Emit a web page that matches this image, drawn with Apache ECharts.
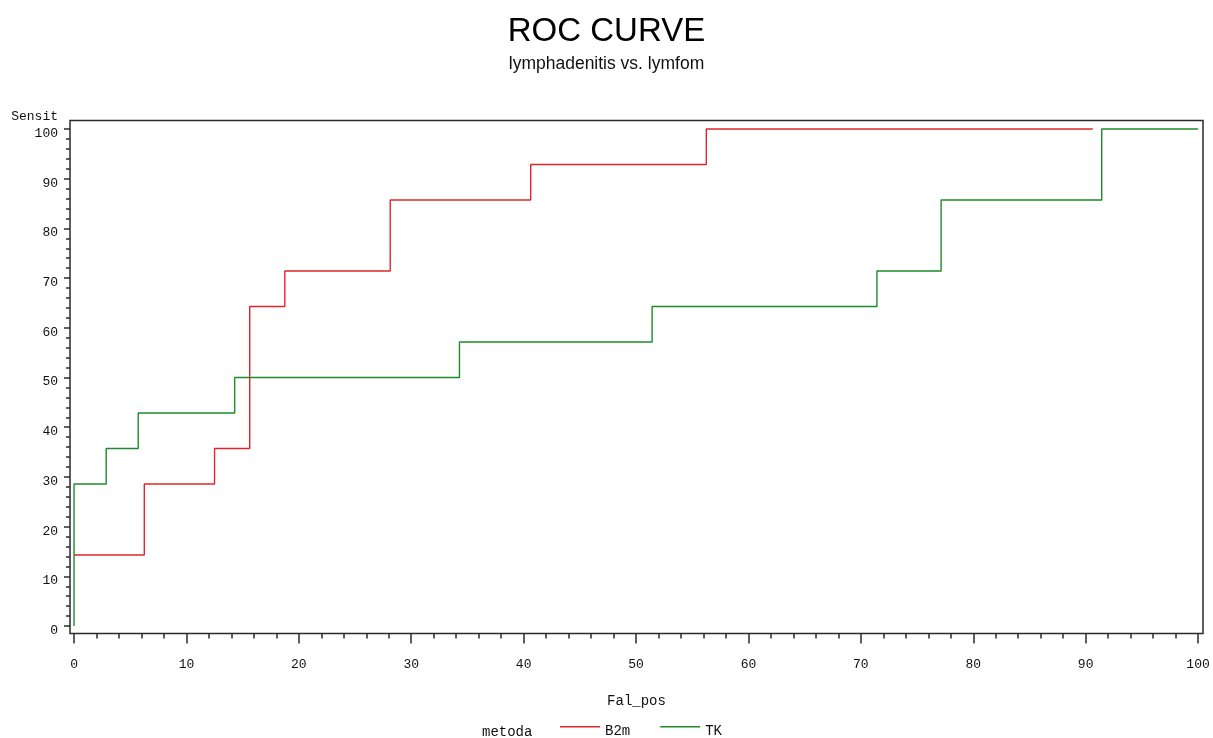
<!DOCTYPE html>
<html>
<head>
<meta charset="utf-8">
<script src="https://cdn.jsdelivr.net/npm/echarts@6/dist/echarts.min.js"></script>
<style>html,body{margin:0;padding:0;background:#fff;}#chart{width:1213px;height:738px;}</style>
</head>
<body>
<div id="chart"></div>
<script>
// Data
var seriesNames = ['B2m', 'TK'];
var b2mFalPos = [0, 6.25, 12.5, 15.63, 18.75, 28.13, 40.63, 56.25, 90.63];
var b2mSensit = [14.29, 28.57, 35.71, 64.29, 71.43, 85.71, 92.86, 100, 100];
var tkFalPos = [0, 0, 2.86, 5.71, 14.29, 34.29, 51.43, 71.43, 77.14, 91.43, 100];
var tkSensit = [0, 28.57, 35.71, 42.86, 50, 57.14, 64.29, 71.43, 85.71, 100, 100];
var majorTicks = [0, 10, 20, 30, 40, 50, 60, 70, 80, 90, 100];
var minorTicks = [2, 4, 6, 8, 12, 14, 16, 18, 22, 24, 26, 28, 32, 34, 36, 38, 42, 44, 46, 48,
                  52, 54, 56, 58, 62, 64, 66, 68, 72, 74, 76, 78, 82, 84, 86, 88, 92, 94, 96, 98];

function pairs(xs, ys) {
  return xs.map(function (x, i) { return [x, ys[i]]; });
}

var mono = 'Liberation Mono';
var axisColor = '#2b2b2b';
var xRange = {min: -0.36, max: 100.44};
var yRange = {min: -1.5, max: 101.7};

function xAxisDef(values, len, withLabels) {
  return {
    type: 'value', position: 'bottom', min: xRange.min, max: xRange.max,
    axisLine: {show: false, onZero: false},
    splitLine: {show: false},
    axisTick: {show: true, inside: false, customValues: values, length: len, lineStyle: {color: axisColor, width: 1.5}},
    axisLabel: withLabels
      ? {show: true, customValues: values, fontFamily: mono, fontSize: 13, color: '#111', margin: 25}
      : {show: false}
  };
}
function yAxisDef(values, len, withLabels) {
  return {
    type: 'value', position: 'left', min: yRange.min, max: yRange.max,
    axisLine: {show: false, onZero: false},
    splitLine: {show: false},
    axisTick: {show: true, inside: false, customValues: values, length: len, lineStyle: {color: axisColor, width: 1.5}},
    axisLabel: withLabels
      ? {show: true, customValues: values, fontFamily: mono, fontSize: 13, color: '#111', margin: 12,
         verticalAlign: 'top', lineHeight: 9}
      : {show: false}
  };
}

var xMain = xAxisDef(majorTicks, 10, true);
xMain.name = 'Fal_pos';
xMain.nameLocation = 'middle';
xMain.nameGap = 61;
xMain.nameTextStyle = {fontFamily: mono, fontSize: 14, color: '#111'};
var yMain = yAxisDef(majorTicks, 6, true);
yMain.name = 'Sensit';
yMain.nameLocation = 'end';
yMain.nameGap = -3;
yMain.nameTextStyle = {fontFamily: mono, fontSize: 13, color: '#111', align: 'right', padding: [0, 12, 0, 0]};

var chart = echarts.init(document.getElementById('chart'), null, {renderer: 'canvas'});
chart.setOption({
  animation: false,
  backgroundColor: '#ffffff',
  title: [
    {text: 'ROC CURVE', left: 'center', top: 10,
     textStyle: {fontFamily: 'Liberation Sans', fontSize: 33, fontWeight: 'normal', color: '#000'}},
    {text: 'lymphadenitis vs. lymfom', left: 'center', top: 50,
     textStyle: {fontFamily: 'Liberation Sans', fontSize: 17.5, fontWeight: 'normal', color: '#111'}},
    {text: 'metoda', left: 477, top: 720,
     textStyle: {fontFamily: mono, fontSize: 14, fontWeight: 'normal', color: '#111'}}
  ],
  legend: {
    data: seriesNames,
    left: 555, top: 719,
    icon: 'path://M0,0H40V1.5H0Z M0,10H0.01V10.01H0Z',
    itemWidth: 40, itemHeight: 10, itemGap: 30,
    textStyle: {fontFamily: mono, fontSize: 14, color: '#111'}
  },
  grid: {left: 70, right: 10, top: 120.5, bottom: 104.5,
         show: true, borderColor: axisColor, borderWidth: 1.5, backgroundColor: 'transparent'},
  xAxis: [xMain, xAxisDef(minorTicks, 5, false)],
  yAxis: [yMain, yAxisDef(minorTicks, 4, false)],
  series: [
    {name: seriesNames[0], type: 'line', step: 'end', symbol: 'none', xAxisIndex: 0, yAxisIndex: 0,
     data: pairs(b2mFalPos, b2mSensit),
     lineStyle: {color: '#e0262b', width: 1.4}, itemStyle: {color: '#e0262b'}},
    {name: seriesNames[1], type: 'line', step: 'end', symbol: 'none', xAxisIndex: 0, yAxisIndex: 0,
     data: pairs(tkFalPos, tkSensit),
     lineStyle: {color: '#1f8a2a', width: 1.4}, itemStyle: {color: '#1f8a2a'}}
  ]
});
</script>
</body>
</html>
